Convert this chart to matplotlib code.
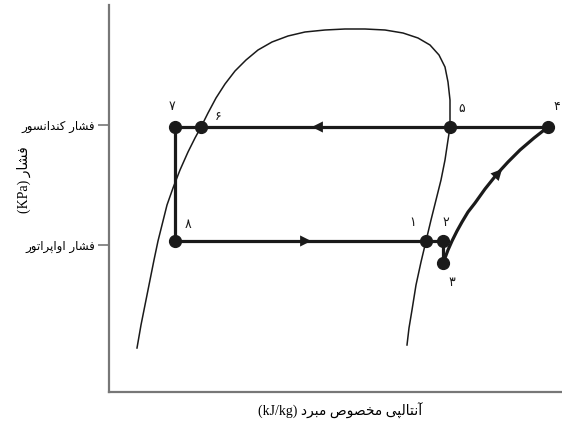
import matplotlib
matplotlib.use("Agg")
import matplotlib.pyplot as plt

# ---------------- data (arbitrary enthalpy / pressure units) ----------------
state_labels = ['۱', '۲', '۳', '۴', '۵', '۶', '۷', '۸']
state_h = [317, 334, 334, 439, 341, 92, 66, 66]
state_p = [151, 151, 129, 265, 265, 265, 265, 151]

# compression process 3 -> 4
comp_h = [334, 336, 339, 343, 348, 353, 359, 366, 376, 388, 399, 411, 425, 439]
comp_p = [129, 134, 142, 151, 161, 170, 180, 189, 203, 218, 230, 242, 254, 265]

# saturation dome
dome_h = [28, 32, 37, 41, 45, 49, 53, 58, 64, 71, 79, 86, 92, 99, 107, 116,
          126, 137, 149, 163, 179, 196, 216, 236, 256, 276, 294, 309, 321,
          330, 336, 339, 341, 341, 341, 339, 336, 332, 327, 322, 317, 312,
          307, 303, 300, 298]
dome_p = [44, 67, 92, 112, 132, 151, 167, 187, 204, 222, 240, 254, 265, 279,
          294, 308, 321, 332, 342, 350, 356, 360, 362, 363, 363, 362, 359,
          354, 347, 337, 325, 310, 292, 277, 265, 252, 232, 212, 192, 172,
          151, 130, 107, 82, 64, 47]

ytick_vals = [267, 147]
ytick_text = ['فشار کندانسور', 'فشار اواپراتور']
ylabel_ar = 'فشار'
ylabel_unit = '(KPa)'
xlabel_ar = 'آنتالپی مخصوص مبرد'
xlabel_unit = '(kJ/kg)'

# ---------------- simple Arabic/Persian shaping for display ----------------
FORMS = {
    'ا': ('\uFE8D', '\uFE8E', None, None),
    'آ': ('\uFE81', '\uFE82', None, None),
    'د': ('\uFEA9', '\uFEAA', None, None),
    'ر': ('\uFEAD', '\uFEAE', None, None),
    'و': ('\uFEED', '\uFEEE', None, None),
    'ب': ('\uFE8F', '\uFE90', '\uFE91', '\uFE92'),
    'پ': ('\uFB56', '\uFB57', '\uFB58', '\uFB59'),
    'ت': ('\uFE95', '\uFE96', '\uFE97', '\uFE98'),
    'خ': ('\uFEA5', '\uFEA6', '\uFEA7', '\uFEA8'),
    'س': ('\uFEB1', '\uFEB2', '\uFEB3', '\uFEB4'),
    'ش': ('\uFEB5', '\uFEB6', '\uFEB7', '\uFEB8'),
    'ص': ('\uFEB9', '\uFEBA', '\uFEBB', '\uFEBC'),
    'ف': ('\uFED1', '\uFED2', '\uFED3', '\uFED4'),
    'ک': ('\uFB8E', '\uFB8F', '\uFB90', '\uFB91'),
    'ل': ('\uFEDD', '\uFEDE', '\uFEDF', '\uFEE0'),
    'م': ('\uFEE1', '\uFEE2', '\uFEE3', '\uFEE4'),
    'ن': ('\uFEE5', '\uFEE6', '\uFEE7', '\uFEE8'),
    'ی': ('\uFBFC', '\uFBFD', '\uFBFE', '\uFBFF'),
}


def dual(c):
    return c in FORMS and FORMS[c][2] is not None


def shape(text):
    out = []
    n = len(text)
    for i, c in enumerate(text):
        if c not in FORMS:
            out.append(c)
            continue
        prev_join = i > 0 and dual(text[i - 1])
        next_join = dual(c) and i + 1 < n and text[i + 1] in FORMS
        iso, fin, ini, med = FORMS[c]
        if prev_join and next_join:
            out.append(med)
        elif prev_join:
            out.append(fin)
        elif next_join:
            out.append(ini)
        else:
            out.append(iso)
    return ''.join(reversed(out))


# ---------------- figure ----------------
fig = plt.figure(figsize=(5.62, 4.28), dpi=100)
ax = fig.add_axes([109 / 562, 36 / 428, 1 - 109 / 562, (392 - 5) / 428])
ax.set_xlim(0, 453)
ax.set_ylim(0, 387)

for s in ['top', 'right']:
    ax.spines[s].set_visible(False)
for s in ['left', 'bottom']:
    ax.spines[s].set_color('#777777')
    ax.spines[s].set_linewidth(1.6)

# dome
ax.plot(dome_h, dome_p, color='#1a1a1a', lw=1.1, zorder=2,
        solid_joinstyle='round')

# cycle lines
lw = 2.3
ax.plot([state_h[7], state_h[0], state_h[1], state_h[2]],
        [state_p[7], state_p[0], state_p[1], state_p[2]],
        color='#1a1a1a', lw=lw, zorder=3, solid_capstyle='round')
ax.plot(comp_h, comp_p, color='#1a1a1a', lw=lw, zorder=3,
        solid_joinstyle='round')
ax.plot([state_h[3], state_h[4], state_h[5], state_h[6], state_h[7]],
        [state_p[3], state_p[4], state_p[5], state_p[6], state_p[7]],
        color='#1a1a1a', lw=lw, zorder=3)

# state points
ax.plot(state_h, state_p, 'o', color='#1a1a1a', ms=8.5, zorder=4)

# arrows
arrow_kw = dict(arrowstyle='-|>', mutation_scale=20, color='#1a1a1a', lw=0)
ax.annotate('', xy=(200, state_p[4]), xytext=(220, state_p[4]), arrowprops=arrow_kw)
ax.annotate('', xy=(205, state_p[0]), xytext=(185, state_p[0]), arrowprops=arrow_kw)
ax.annotate('', xy=(395, 225), xytext=(383, 212), arrowprops=arrow_kw)

# state labels
lab_off = {
    '۱': (-13, 18), '۲': (3, 18), '۳': (9, -19), '۴': (9, 20),
    '۵': (12, 19), '۶': (17, 10), '۷': (-3, 21), '۸': (13, 17),
}
for lbl, h, p in zip(state_labels, state_h, state_p):
    dx, dy = lab_off[lbl]
    ax.text(h + dx, p + dy, lbl, ha='center', va='center', fontsize=9,
            color='#1a1a1a', family=['DejaVu Sans'], clip_on=False)

# y ticks
ax.set_yticks(ytick_vals)
ax.set_yticklabels([shape(t) for t in ytick_text], fontsize=8.5,
                   family=['DejaVu Sans'])
ax.tick_params(axis='y', length=8, width=1.2, color='#777777', pad=2)
ax.set_xticks([])

ax.set_ylabel(ylabel_unit + ' ' + shape(ylabel_ar), fontsize=10,
              family=['Liberation Serif', 'DejaVu Sans'])
ax.yaxis.set_label_coords(-(109 - 31) / 453, (392 - 180) / 387)
ax.set_xlabel(xlabel_unit + ' ' + shape(xlabel_ar), fontsize=10,
              family=['Liberation Serif', 'DejaVu Sans'])
ax.xaxis.set_label_coords((340 - 109) / 453, -(403 - 392) / 387)

fig.savefig('out.png', dpi=100)
